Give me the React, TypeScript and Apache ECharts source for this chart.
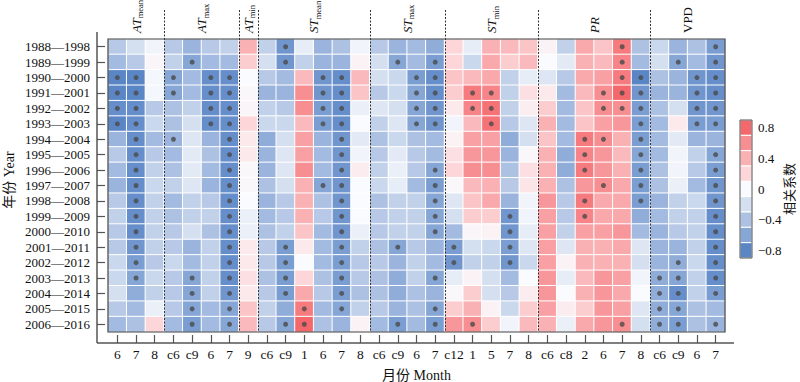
import React, { useEffect, useRef } from "react";
import * as echarts from "echarts";

const periods = [
  "1988—1998", "1989—1999", "1990—2000", "1991—2001", "1992—2002", "1993—2003",
  "1994—2004", "1995—2005", "1996—2006", "1997—2007", "1998—2008", "1999—2009",
  "2000—2010", "2001—2011", "2002—2012", "2003—2013", "2004—2014", "2005—2015", "2006—2016",
];

const months = [
  "6", "7", "8",
  "c6", "c9", "6", "7",
  "9",
  "c6", "c9", "1", "6", "7", "8",
  "c6", "c9", "6", "7",
  "c12", "1", "5", "7", "8",
  "c6", "c8", "2", "6", "7", "8",
  "c6", "c9", "6", "7",
];

const groupNames = ["AT", "AT", "AT", "ST", "ST", "ST", "PR", "VPD"];
const groupSubs = ["mean", "max", "min", "mean", "max", "min", "", ""];
const groupItalic = [true, true, true, true, true, true, true, false];
const groupSizes = [3, 4, 1, 6, 4, 5, 6, 4];

// rows = periods, columns = months (grouped as above)
const corr = [
  [-0.35, -0.2, -0.05, -0.35, -0.5, -0.35, -0.3, 0.4, -0.3, -0.7, -0.1, -0.5, -0.4, -0.05, -0.35, -0.5, -0.45, -0.55, 0.2, -0.1, 0.4, 0.35, 0.3, 0.05, -0.3, 0.45, 0.3, 0.7, -0.4, -0.25, -0.5, -0.4, -0.65],
  [-0.45, -0.35, 0.03, -0.3, -0.6, -0.45, -0.45, 0.25, -0.2, -0.7, -0.3, -0.5, -0.5, 0.05, -0.2, -0.6, -0.45, -0.65, 0.2, -0.25, 0.45, 0.25, 0.35, 0, -0.12, 0.4, 0.35, 0.65, -0.45, -0.2, -0.6, -0.45, -0.7],
  [-0.8, -0.8, -0.03, -0.6, -0.45, -0.75, -0.75, 0, -0.35, -0.45, 0.35, -0.7, -0.75, 0.35, -0.2, -0.25, -0.65, -0.75, 0.3, 0.35, 0.45, -0.3, -0.1, -0.15, -0.35, 0.45, 0.5, 0.7, -0.8, -0.4, -0.5, -0.7, -0.75],
  [-0.8, -0.8, -0.03, -0.6, -0.45, -0.75, -0.75, 0.02, -0.5, -0.5, 0.6, -0.7, -0.75, 0.3, -0.35, -0.25, -0.6, -0.75, 0.25, 0.7, 0.65, -0.3, 0.15, 0.1, -0.45, 0.35, 0.6, 0.8, -0.7, -0.5, -0.5, -0.7, -0.75],
  [-0.75, -0.75, -0.35, -0.4, -0.3, -0.75, -0.75, 0.03, -0.3, -0.35, 0.6, -0.65, -0.75, -0.08, -0.15, -0.2, -0.6, -0.7, 0.1, 0.65, 0.75, -0.3, 0.07, 0.25, -0.45, 0.3, 0.6, 0.6, -0.65, -0.4, -0.2, -0.7, -0.7],
  [-0.8, -0.75, -0.25, -0.4, -0.2, -0.75, -0.75, 0.2, -0.25, -0.25, 0.35, -0.65, -0.75, 0, -0.3, -0.15, -0.6, -0.7, -0.05, 0.35, 0.75, -0.35, -0.15, 0.4, -0.45, 0.3, 0.5, 0.55, -0.65, -0.45, 0.1, -0.65, -0.65],
  [-0.5, -0.75, -0.45, -0.5, -0.15, -0.5, -0.75, 0.1, -0.55, -0.2, 0.5, -0.5, -0.7, -0.12, -0.4, -0.25, -0.4, -0.45, 0.05, 0.5, 0.5, -0.55, -0.2, 0.3, -0.45, 0.7, 0.6, 0.4, -0.65, -0.45, -0.12, -0.5, -0.5],
  [-0.35, -0.75, -0.35, -0.45, -0.12, -0.4, -0.75, 0.1, -0.5, -0.15, 0.5, -0.45, -0.7, -0.05, -0.35, -0.12, -0.35, -0.45, 0.15, 0.55, 0.55, -0.5, 0.02, 0.4, -0.55, 0.65, 0.55, 0.35, -0.6, -0.45, -0.05, -0.3, -0.6],
  [-0.45, -0.75, -0.3, -0.4, -0.12, -0.45, -0.75, 0.02, -0.5, -0.15, 0.6, -0.45, -0.7, 0.08, -0.3, -0.08, -0.35, -0.6, 0.2, 0.6, 0.6, -0.4, 0.15, 0.4, -0.55, 0.7, 0.55, 0.4, -0.65, -0.4, -0.05, -0.35, -0.65],
  [-0.5, -0.75, -0.25, -0.3, -0.15, -0.5, -0.75, 0.02, -0.4, -0.2, 0.4, -0.6, -0.7, 0, -0.25, -0.1, -0.45, -0.65, 0.02, 0.35, 0.4, -0.35, 0.12, 0.4, -0.4, 0.55, 0.6, 0.45, -0.65, -0.4, -0.08, -0.45, -0.7],
  [-0.35, -0.75, -0.3, -0.45, -0.3, -0.35, -0.75, 0, -0.5, -0.35, 0.4, -0.4, -0.7, 0, -0.4, -0.3, -0.3, -0.6, -0.15, 0.3, 0.45, -0.5, -0.05, 0.55, -0.35, 0.7, 0.45, 0.45, -0.65, -0.5, -0.3, -0.25, -0.7],
  [-0.3, -0.75, -0.3, -0.4, -0.3, -0.3, -0.75, -0.08, -0.45, -0.35, 0.4, -0.35, -0.7, 0, -0.35, -0.3, -0.3, -0.6, -0.2, 0.25, 0.25, -0.7, -0.05, 0.5, -0.35, 0.65, 0.45, 0.45, -0.55, -0.45, -0.3, -0.3, -0.75],
  [-0.35, -0.75, -0.3, -0.35, -0.2, -0.4, -0.75, -0.08, -0.4, -0.3, 0.3, -0.45, -0.7, -0.08, -0.35, -0.3, -0.3, -0.6, -0.45, 0.03, 0.05, -0.7, -0.1, 0.5, -0.3, 0.5, 0.5, 0.55, -0.45, -0.5, -0.35, -0.3, -0.75],
  [-0.35, -0.7, -0.3, -0.35, -0.5, -0.3, -0.75, 0.1, -0.35, -0.65, 0.1, -0.45, -0.65, -0.3, -0.4, -0.6, -0.35, -0.5, -0.65, -0.2, -0.25, -0.65, -0.15, 0.5, -0.15, 0.4, 0.4, 0.45, -0.15, -0.5, -0.5, -0.3, -0.75],
  [-0.25, -0.65, -0.35, -0.25, -0.45, -0.3, -0.75, 0.1, -0.35, -0.65, 0, -0.45, -0.65, -0.35, -0.35, -0.5, -0.3, -0.45, -0.7, -0.3, -0.3, -0.7, -0.25, 0.5, 0.05, 0.4, 0.4, 0.4, -0.2, -0.5, -0.55, -0.25, -0.75],
  [-0.25, -0.6, -0.25, -0.35, -0.6, -0.3, -0.75, 0.15, -0.4, -0.65, 0.2, -0.4, -0.65, -0.35, -0.4, -0.55, -0.3, -0.6, -0.1, 0.05, -0.2, -0.45, 0, 0.55, -0.1, 0.35, 0.55, 0.5, -0.05, -0.55, -0.6, -0.3, -0.75],
  [-0.2, -0.55, -0.3, -0.35, -0.6, -0.3, -0.7, 0.1, -0.35, -0.65, 0.45, -0.35, -0.65, -0.4, -0.4, -0.55, -0.4, -0.5, 0.02, 0.25, -0.2, -0.35, 0.08, 0.55, 0, 0.4, 0.55, 0.45, 0, -0.55, -0.75, -0.3, -0.65],
  [-0.35, -0.45, -0.08, -0.35, -0.6, -0.45, -0.6, 0.3, -0.3, -0.55, 0.7, -0.45, -0.6, -0.3, -0.35, -0.5, -0.4, -0.6, 0.25, 0.4, 0.05, -0.25, 0.25, 0.5, 0.08, 0.25, 0.55, 0.5, -0.15, -0.55, -0.6, -0.4, -0.45],
  [-0.45, -0.4, 0.2, -0.45, -0.65, -0.45, -0.6, 0.35, -0.35, -0.6, 0.8, -0.4, -0.5, 0.05, -0.45, -0.65, -0.45, -0.65, 0.55, 0.6, 0.25, -0.05, 0.35, 0.4, -0.08, 0.45, 0.55, 0.6, -0.2, -0.55, -0.65, -0.4, -0.5],
];

// column indices of significant cells, per period
const significant = [
  [9, 27, 32],
  [4, 9, 15, 17, 27, 30, 32],
  [0, 1, 3, 5, 6, 11, 12, 16, 17, 27, 28, 31, 32],
  [0, 1, 3, 5, 6, 11, 12, 16, 17, 19, 20, 26, 27, 28, 31, 32],
  [0, 1, 5, 6, 11, 12, 16, 17, 19, 20, 26, 27, 28, 31, 32],
  [0, 1, 5, 6, 11, 12, 16, 17, 20, 28, 31, 32],
  [1, 3, 6, 12, 25, 26, 28],
  [1, 6, 12, 25, 28, 32],
  [1, 6, 12, 17, 25, 28, 32],
  [1, 6, 11, 12, 17, 26, 28, 32],
  [1, 6, 12, 17, 25, 28, 32],
  [1, 6, 12, 17, 21, 25, 32],
  [1, 6, 12, 17, 21, 32],
  [1, 6, 9, 12, 15, 18, 21, 32],
  [1, 6, 9, 12, 18, 21, 30, 32],
  [1, 4, 6, 9, 12, 17, 29, 30, 32],
  [4, 6, 9, 12, 29, 30, 32],
  [4, 6, 10, 12, 17, 29, 30],
  [4, 6, 9, 10, 15, 17, 19, 27, 29, 30, 32],
];

const colorbarBands = [0.8, 0.6, 0.4, 0.2, 0, -0.2, -0.4, -0.6, -0.8];
const colorbarTicks = [0.8, 0.4, 0, -0.4, -0.8];

const palette = ["#5b86c6", "#86a6d6", "#adc2e3", "#d4dff0", "#fafbfe", "#fcd6d8", "#f9b1b4", "#f78e92", "#f4686c"];
const FONT = "'Liberation Serif', 'Noto Sans CJK SC', serif";

export default function App() {
  const ref = useRef<HTMLDivElement>(null);

  useEffect(() => {
    const el = ref.current!;
    const chart = echarts.init(el, null, { renderer: "svg" });

    const G = { left: 108, top: 39, width: 617, height: 293 };
    const cw = G.width / months.length;

    const heatData: number[][] = [];
    corr.forEach((row, r) => row.forEach((v, c) => heatData.push([c, r, v])));
    const dotData: number[][] = [];
    significant.forEach((cols, r) => cols.forEach((c) => dotData.push([c, r])));

    const graphics: any[] = [];
    // axis frame lines
    graphics.push({ type: "line", z: 100, shape: { x1: 97, y1: 32, x2: 97, y2: 343 }, style: { stroke: "#555", lineWidth: 1.5 } });
    graphics.push({ type: "line", z: 100, shape: { x1: 97, y1: 343, x2: 734, y2: 343 }, style: { stroke: "#555", lineWidth: 1.5 } });
    // plot border
    graphics.push({ type: "rect", z: 100, shape: { x: G.left, y: G.top, width: G.width, height: G.height }, style: { fill: "none", stroke: "#444", lineWidth: 1.2 } });

    // group separators and labels
    let start = 0;
    groupSizes.forEach((n, i) => {
      const cx = G.left + (start + n / 2) * cw;
      const sub = groupSubs[i];
      const txt = sub ? `{m|${groupNames[i]}}{s|${sub}}` : `{m|${groupNames[i]}}`;
      graphics.push({
        type: "text",
        z: 100,
        x: cx,
        y: 33,
        rotation: Math.PI / 2,
        style: {
          text: txt,
          align: "left",
          verticalAlign: "middle",
          fill: "#111",
          rich: {
            m: { fontFamily: FONT, fontSize: 13, fontStyle: groupItalic[i] ? "italic" : "normal", lineHeight: 17, fill: "#111" },
            s: { fontFamily: FONT, fontSize: 8.5, verticalAlign: "bottom", lineHeight: 9, fill: "#111" },
          },
        },
      });
      start += n;
      if (i < groupSizes.length - 1) {
        const x = Math.round(G.left + start * cw) + 0.5;
        graphics.push({
          type: "line",
          z: 100,
          shape: { x1: x, y1: 10, x2: x, y2: G.top + G.height },
          style: { stroke: "#333", lineWidth: 1, lineDash: [2, 1.5] },
        });
      }
    });

    // colorbar
    const cbX = 740, cbY = 120, cbW = 12, cbH = 138;
    const bandH = cbH / colorbarBands.length;
    const vmin = colorbarBands[colorbarBands.length - 1];
    const vmax = colorbarBands[0];
    colorbarBands.forEach((v, i) => {
      const idx = Math.round(((v - vmin) / (vmax - vmin)) * (palette.length - 1));
      graphics.push({
        type: "rect",
        z: 100,
        shape: { x: cbX, y: cbY + i * bandH, width: cbW, height: bandH },
        style: { fill: palette[idx], stroke: "#fff", lineWidth: 1 },
      });
    });
    graphics.push({ type: "rect", z: 101, shape: { x: cbX, y: cbY, width: cbW, height: cbH }, style: { fill: "none", stroke: "#555", lineWidth: 1 } });
    colorbarTicks.forEach((v) => {
      const i = colorbarBands.indexOf(v);
      graphics.push({
        type: "text",
        z: 101,
        x: cbX + cbW + 6,
        y: cbY + (i + 0.5) * bandH,
        style: {
          text: v < 0 ? "\u2212" + Math.abs(v).toString() : v.toString(),
          fontFamily: FONT,
          fontSize: 13,
          fill: "#111",
          align: "left",
          verticalAlign: "middle",
        },
      });
    });
    graphics.push({
      type: "text", z: 101, x: 789, y: cbY + cbH / 2, rotation: Math.PI / 2,
      style: { text: "相关系数", fontFamily: FONT, fontSize: 13, fill: "#111", align: "center", verticalAlign: "middle" },
    });
    // axis titles
    graphics.push({
      type: "text", z: 101, x: 9, y: 180, rotation: Math.PI / 2,
      style: { text: "年份 Year", fontFamily: FONT, fontSize: 14, fill: "#111", align: "center", verticalAlign: "middle" },
    });
    graphics.push({
      type: "text", z: 101, x: G.left + G.width / 2, y: 375,
      style: { text: "月份 Month", fontFamily: FONT, fontSize: 14, fill: "#111", align: "center", verticalAlign: "middle" },
    });

    chart.setOption({
      animation: false,
      backgroundColor: "#fff",
      grid: { left: G.left, top: G.top, width: G.width, height: G.height, outerBoundsMode: "none" },
      xAxis: {
        type: "category",
        data: months.map((_, i) => String(i)),
        offset: 11,
        axisLine: { show: false },
        axisTick: { show: true, inside: true, length: 8, alignWithLabel: true, lineStyle: { color: "#555", width: 1.2 } },
        axisLabel: { interval: 0, margin: 5, fontFamily: FONT, fontSize: 13.5, color: "#111", formatter: (v: string) => months[Number(v)] },
        splitLine: { show: false },
      },
      yAxis: {
        type: "category",
        data: periods,
        inverse: true,
        offset: 11,
        axisLine: { show: false },
        axisTick: { show: true, inside: true, length: 8, alignWithLabel: true, lineStyle: { color: "#555", width: 1.2 } },
        axisLabel: { interval: 0, margin: 7, fontFamily: FONT, fontSize: 13, color: "#111" },
        splitLine: { show: false },
      },
      visualMap: {
        type: "continuous",
        show: false,
        min: -0.8,
        max: 0.8,
        dimension: 2,
        seriesIndex: 0,
        inRange: { color: palette },
      },
      series: [
        {
          type: "heatmap",
          data: heatData,
          itemStyle: { borderColor: "#fff", borderWidth: 1 },
          emphasis: { disabled: true },
        },
        {
          type: "scatter",
          data: dotData,
          symbol: "circle",
          symbolSize: 5,
          itemStyle: { color: "#4a4a4a" },
          z: 5,
          emphasis: { disabled: true },
        },
      ],
      graphic: graphics,
    });

    return () => chart.dispose();
  }, []);

  return (
    <div
      ref={ref}
      style={{ position: "fixed", left: 0, top: 0, width: 800, height: 382, background: "#fff" }}
    />
  );
}
